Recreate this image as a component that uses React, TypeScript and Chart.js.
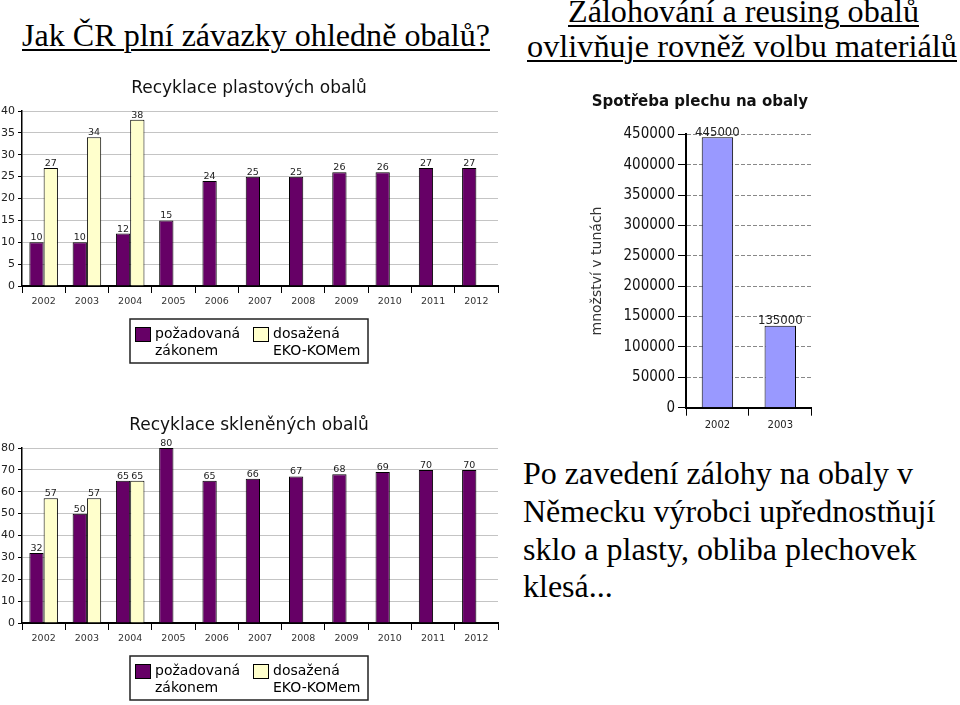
import React, { useEffect, useLayoutEffect, useRef } from "react";
import { Chart, registerables } from "chart.js";

Chart.register(...registerables);

// ---------- data ----------
const years = ["2002", "2003", "2004", "2005", "2006", "2007", "2008", "2009", "2010", "2011", "2012"];
const seriesLabels = ["požadovaná\nzákonem", "dosažená\nEKO-KOMem"];
const plastRequired = [10, 10, 12, 15, 24, 25, 25, 26, 26, 27, 27];
const plastAchieved = [27, 34, 38, null, null, null, null, null, null, null, null];
const glassRequired = [32, 50, 65, 80, 65, 66, 67, 68, 69, 70, 70];
const glassAchieved = [57, 57, 65, null, null, null, null, null, null, null, null];
const tinYears = ["2002", "2003"];
const tinValues = [445000, 135000];

const plastTitle = "Recyklace plastových obalů";
const glassTitle = "Recyklace skleněných obalů";
const tinTitle = "Spotřeba plechu na obaly";
const tinAxisTitle = "množství v tunách";

const leftHeading = "Jak ČR plní závazky ohledně obalů?";
const rightHeading = ["Zálohování a reusing obalů", "ovlivňuje rovněž volbu materiálů"];
const paragraph = [
  "Po zavedení zálohy na obaly v",
  "Německu výrobci upřednostňují",
  "sklo a plasty, obliba plechovek",
  "klesá...",
];

const PURPLE = "#660066";
const CREAM = "#ffffcc";
const TIN = "#9999ff";
const SANS = '"DejaVu Sans", sans-serif';
const SANS_COND = '"DejaVu Sans Condensed", "DejaVu Sans", sans-serif';

// ---------- plugins ----------
const valueLabels = {
  id: "valueLabels",
  afterDatasetsDraw(chart: any, _args: any, opts: any) {
    const { ctx } = chart;
    ctx.save();
    ctx.font = opts.font;
    ctx.fillStyle = opts.color;
    ctx.textAlign = "center";
    ctx.textBaseline = "alphabetic";
    chart.data.datasets.forEach((ds: any, i: number) => {
      const meta = chart.getDatasetMeta(i);
      meta.data.forEach((el: any, j: number) => {
        const v = ds.data[j];
        if (v == null) return;
        ctx.fillText(String(v), el.x, el.y - opts.gap);
      });
    });
    ctx.restore();
  },
};

const boxLegend = {
  id: "boxLegend",
  afterDraw(chart: any, _args: any, o: any) {
    if (!o || !o.show) return;
    const { ctx } = chart;
    ctx.save();
    ctx.fillStyle = "#fff";
    ctx.fillRect(o.x, o.y, o.w, o.h);
    ctx.strokeStyle = "#222";
    ctx.lineWidth = 1.5;
    ctx.strokeRect(o.x, o.y, o.w, o.h);
    chart.data.datasets.forEach((ds: any, i: number) => {
      const ix = o.x + o.itemX[i];
      ctx.fillStyle = ds.backgroundColor;
      ctx.fillRect(ix, o.y + o.swY, o.sw, o.sh);
      ctx.strokeStyle = "#000";
      ctx.lineWidth = 1;
      ctx.strokeRect(ix + 0.5, o.y + o.swY + 0.5, o.sw - 1, o.sh - 1);
      ctx.fillStyle = "#000";
      ctx.font = o.font;
      ctx.textAlign = "left";
      ctx.textBaseline = "alphabetic";
      String(ds.label)
        .split("\n")
        .forEach((line: string, k: number) => {
          ctx.fillText(line, ix + o.sw + o.gap, o.y + o.base + k * o.lineH);
        });
    });
    ctx.restore();
  },
};

// ---------- configs ----------
function recyclingConfig(title: string, req: (number | null)[], ach: (number | null)[], yMax: number, yStep: number) {
  return {
    type: "bar",
    data: {
      labels: years,
      datasets: [
        { label: seriesLabels[0], data: req, backgroundColor: PURPLE, borderColor: "#000", borderWidth: 1, categoryPercentage: 0.66, barPercentage: 1 },
        { label: seriesLabels[1], data: ach, backgroundColor: CREAM, borderColor: "#000", borderWidth: 1, categoryPercentage: 0.66, barPercentage: 1 },
      ],
    },
    options: {
      responsive: false,
      animation: false,
      devicePixelRatio: 1,
      layout: { padding: { left: 0, right: 2, top: 0, bottom: 56 } },
      plugins: {
        legend: { display: false },
        tooltip: { enabled: false },
        title: {
          display: true,
          text: title,
          color: "#111",
          font: { family: SANS, size: 17, weight: "normal" },
          padding: { top: 8, bottom: 12.6 },
        },
        valueLabels: { font: `9.5px ${SANS}`, color: "#222", gap: 2 },
        boxLegend: {
          show: true,
          x: 130, y: 249, w: 238, h: 44,
          itemX: [5, 123], swY: 8, sw: 16, sh: 15, gap: 4,
          base: 19, lineH: 17, font: `14px ${SANS}`,
        },
      },
      scales: {
        x: {
          afterFit: (s: any) => { s.height = 24; },
          grid: { display: true, drawOnChartArea: false, drawTicks: true, tickLength: 7, color: "#000", lineWidth: 1, offset: true },
          border: { display: true, color: "#000", width: 2 },
          ticks: { font: { family: SANS, size: 9.5 }, color: "#333", padding: 3, maxRotation: 0, autoSkip: false },
        },
        y: {
          min: 0,
          max: yMax,
          afterFit: (s: any) => { s.width = 22; },
          grid: { color: "#c4c4c4", lineWidth: 1, tickLength: 4, tickColor: "#000" },
          border: { display: true, color: "#000", width: 1.5 },
          ticks: { stepSize: yStep, font: { family: SANS, size: 11 }, color: "#222", padding: 3 },
        },
      },
    },
    plugins: [valueLabels, boxLegend],
  };
}

function tinConfig() {
  return {
    type: "bar",
    data: {
      labels: tinYears,
      datasets: [
        { label: tinTitle, data: tinValues, backgroundColor: TIN, borderColor: "#000", borderWidth: 1, categoryPercentage: 0.5, barPercentage: 1 },
      ],
    },
    options: {
      responsive: false,
      animation: false,
      devicePixelRatio: 1,
      layout: { padding: { left: 0, right: 0.3, top: 0, bottom: 0 } },
      plugins: {
        legend: { display: false },
        tooltip: { enabled: false },
        title: {
          display: true,
          text: tinTitle,
          color: "#111",
          font: { family: SANS, size: 15, weight: "bold" },
          padding: { top: 13, bottom: 23.3 },
        },
        valueLabels: { font: `13px ${SANS_COND}`, color: "#222", gap: 1.5 },
        boxLegend: { show: false },
      },
      scales: {
        x: {
          afterFit: (s: any) => { s.height = 32.3; },
          grid: { display: true, drawOnChartArea: false, drawTicks: true, tickLength: 8, color: "#000", lineWidth: 1, offset: true },
          border: { display: true, color: "#000", width: 2 },
          ticks: { font: { family: SANS, size: 10 }, color: "#222", padding: 4, maxRotation: 0 },
        },
        y: {
          min: 0,
          max: 450000,
          afterFit: (s: any) => { s.width = 98; },
          grid: { color: "#888", lineWidth: 1, tickLength: 8, tickColor: "#000", tickBorderDash: [] },
          border: { display: true, color: "#000", width: 2, dash: [4, 2] },
          ticks: {
            stepSize: 50000,
            font: { family: SANS_COND, size: 15 },
            color: "#111",
            padding: 3,
            callback: (v: any) => String(v),
          },
          title: {
            display: true,
            text: tinAxisTitle,
            color: "#333",
            font: { family: SANS, size: 14 },
            padding: { top: 0.6, bottom: 0 },
          },
        },
      },
    },
    plugins: [valueLabels, boxLegend],
  };
}

// ---------- components ----------
function ChartBox(props: { left: number; top: number; width: number; height: number; make: () => any }) {
  const ref = useRef<HTMLCanvasElement>(null);
  useEffect(() => {
    const chart = new Chart(ref.current as HTMLCanvasElement, props.make());
    return () => chart.destroy();
  }, []);
  return (
    <canvas
      ref={ref}
      width={props.width}
      height={props.height}
      style={{ position: "absolute", left: props.left, top: props.top, width: props.width, height: props.height }}
    />
  );
}

function TextLine(props: { text: string; left: number; baseline: number; size?: number; width?: number; underline?: boolean }) {
  const size = props.size ?? 32;
  const ref = useRef<HTMLDivElement>(null);
  useLayoutEffect(() => {
    const fit = () => {
      const el = ref.current;
      if (!el || !props.width) return;
      el.style.transform = "none";
      const w = el.getBoundingClientRect().width;
      if (w > 0) el.style.transform = `scaleX(${props.width / w})`;
    };
    fit();
    (document as any).fonts?.ready?.then(fit);
  }, []);
  return (
    <div
      ref={ref}
      style={{
        position: "absolute",
        left: props.left,
        top: props.baseline - 0.8375 * size,
        fontFamily: '"Liberation Serif", "Times New Roman", serif',
        fontSize: size,
        lineHeight: `${size}px`,
        whiteSpace: "nowrap",
        color: "#000",
        transformOrigin: "left top",
        textDecoration: props.underline ? "underline" : "none",
        textDecorationThickness: props.underline ? "2px" : undefined,
        textUnderlineOffset: props.underline ? "3px" : undefined,
      }}
    >
      {props.text}
    </div>
  );
}

export default function App() {
  return (
    <div style={{ position: "absolute", left: 0, top: 0, width: 960, height: 705, overflow: "hidden", background: "#fff" }}>
      <TextLine text={leftHeading} left={22} baseline={46} width={468} underline />
      <TextLine text={rightHeading[0]} left={568} baseline={22} width={351} underline />
      <TextLine text={rightHeading[1]} left={527} baseline={57} width={430} underline />
      {paragraph.map((line, i) => (
        <TextLine key={i} text={line} left={523} baseline={484 + i * 37.7} />
      ))}
      <ChartBox left={0} top={70} width={500} height={296} make={() => recyclingConfig(plastTitle, plastRequired, plastAchieved, 40, 5)} />
      <ChartBox left={0} top={407} width={500} height={296} make={() => recyclingConfig(glassTitle, glassRequired, glassAchieved, 80, 10)} />
      <ChartBox left={588} top={80} width={224} height={360} make={tinConfig} />
    </div>
  );
}
